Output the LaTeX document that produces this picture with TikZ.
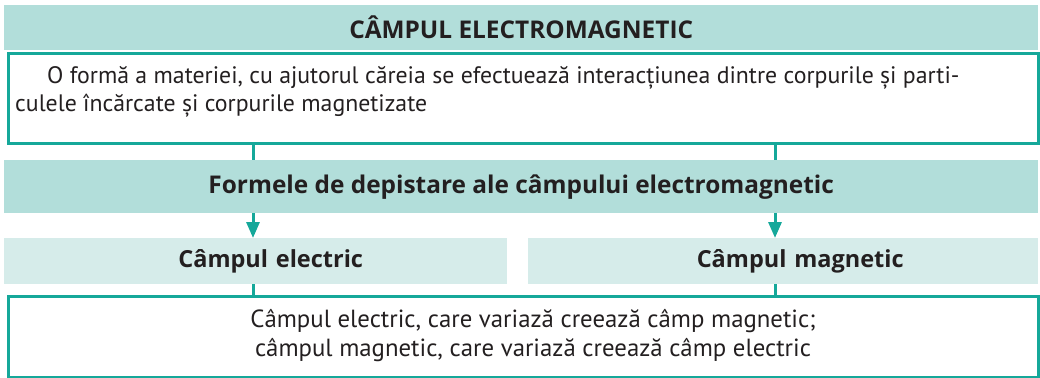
\documentclass[tikz,border=0pt]{standalone}
\usepackage{fontspec}
\setmainfont{PT Sans}
\newfontfamily\headfont{Open Sans}
\usetikzlibrary{arrows.meta,positioning}
\definecolor{c1}{HTML}{B2DEDA}
\definecolor{c2}{HTML}{D6ECEA}
\definecolor{c3}{HTML}{15A89A}
\definecolor{c4}{HTML}{231F20}

\begin{document}
\begin{tikzpicture}[x=1pt,y=-1pt,
  band/.style={fill=c1,anchor=north west,inner sep=0pt,minimum width=1034pt,minimum height=45pt,text=c4,font=\headfont\bfseries\fontsize{24.4}{28}\selectfont},
  half/.style={fill=c2,anchor=north west,inner sep=0pt,minimum height=46pt,text=c4,align=center,font=\headfont\bfseries\fontsize{23.5}{27}\selectfont},
  frame/.style={draw=c3,line width=3pt,anchor=north west,inner sep=0pt,minimum width=1030pt},
  words/.style={inner sep=0pt,text=c4},
  link/.style={draw=c3,line width=3pt},
  arr/.style={link,-{Triangle[length=16pt,width=13pt]}}]
\useasboundingbox (0,0) rectangle (1040,377);
\node[band] (top) at (4,5) {CÂMPUL ELECTROMAGNETIC};
\node[frame,minimum height=89pt] (def) at (6.5,52.5) {};
\node[words,anchor=north west,align=left,font=\fontsize{23.8}{28}\selectfont] (deftext) at (15,66.5) {\hspace*{32pt}O formă a materiei, cu ajutorul căreia se efectuează interacțiunea dintre corpurile și parti-\\culele încărcate și corpurile magnetizate};
\node[band,minimum height=53pt] (mid) at (4,160) {Formele de depistare ale câmpului electromagnetic};
\node[half,minimum width=503pt,text width=503pt] (el) at (4,238) {\hspace*{30pt}Câmpul electric};
\node[half,minimum width=510pt,text width=510pt] (mg) at (528,238) {\hspace*{34pt}Câmpul magnetic};
\node[frame,minimum height=81pt] (bot) at (6.5,294.5) {};
\node[words,anchor=north,align=center,font=\fontsize{24.8}{29.5}\selectfont] (bottext) at (533,309) {Câmpul electric, care variază creează câmp magnetic;\\câmpul magnetic, care variază creează câmp electric};
\coordinate (l) at (253,0);
\coordinate (r) at (775,0);
\draw[link] (def.south -| l) -- (mid.north -| l);
\draw[link] (def.south -| r) -- (mid.north -| r);
\draw[arr] (mid.south -| l) -- (el.north -| l);
\draw[arr] (mid.south -| r) -- (mg.north -| r);
\draw[link] (el.south -| l) -- (bot.north -| l);
\draw[link] (mg.south -| r) -- (bot.north -| r);
\end{tikzpicture}
\end{document}
